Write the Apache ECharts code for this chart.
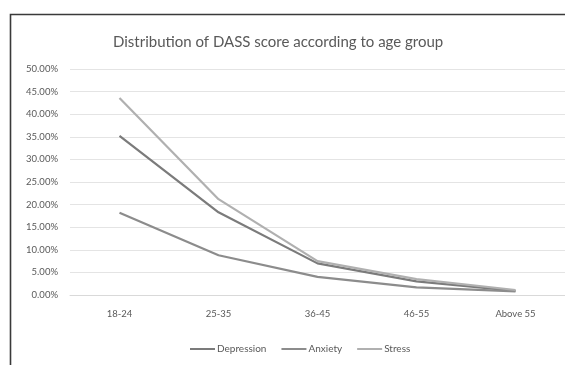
<!DOCTYPE html>
<html><head><meta charset="utf-8">
<script src="https://cdn.jsdelivr.net/npm/echarts@6/dist/echarts.min.js"></script>
<style>html,body{margin:0;padding:0;background:#fff}#c{width:565px;height:365px}</style>
</head><body><div id="c"></div>
<script>
const categories = ["18-24", "25-35", "36-45", "46-55", "Above 55"];
const depression = [35.2, 18.3, 7.0, 3.0, 0.9];
const anxiety = [18.2, 8.8, 4.0, 1.7, 0.8];
const stress = [43.6, 21.2, 7.5, 3.5, 1.1];
const yTicks = { min: 0, max: 50, interval: 5 };

const chart = echarts.init(document.getElementById('c'), null, { renderer: 'canvas' });
const font = 'Lato, "Open Sans", sans-serif';
const mk = (name, data, color) => ({
  name, type: 'line', data, symbol: 'none', smooth: false,
  lineStyle: { color, width: 2.2 }, itemStyle: { color }
});
chart.setOption({
  animation: false,
  backgroundColor: '#fff',
  graphic: [{
    type: 'rect', shape: { x: 10.5, y: 14.5, width: 600, height: 400 },
    style: { fill: 'none', stroke: '#3a3a3a', lineWidth: 1.6 }, silent: true, z: -1
  }],
  title: {
    text: 'Distribution of DASS score according to age group',
    left: 108, top: 30,
    textStyle: { fontFamily: font, fontSize: 15, fontWeight: 'normal', color: '#595959' }
  },
  legend: {
    bottom: 6, left: 185, itemWidth: 25, itemHeight: 2, itemGap: 15,
    icon: 'rect',
    textStyle: { fontFamily: font, fontSize: 10, color: '#595959', padding: [0, 0, 0, -3] },
    data: ['Depression', 'Anxiety', 'Stress']
  },
  grid: { left: 70, right: 0, top: 69, bottom: 70, containLabel: false },
  xAxis: {
    type: 'category', data: categories, boundaryGap: true,
    axisLine: { show: true, lineStyle: { color: '#d9d9d9' } },
    axisTick: { show: false },
    axisLabel: { fontFamily: font, fontSize: 9.5, color: '#595959', margin: 14 }
  },
  yAxis: {
    type: 'value', min: yTicks.min, max: yTicks.max, interval: yTicks.interval,
    axisLine: { show: false }, axisTick: { show: false },
    splitLine: { lineStyle: { color: '#e4e4e4' } },
    axisLabel: { fontFamily: font, fontSize: 9.5, color: '#595959', margin: 12,
      formatter: v => v.toFixed(2) + '%' }
  },
  series: [
    mk('Depression', depression, '#7b7b7b'),
    mk('Anxiety', anxiety, '#8c8c8c'),
    mk('Stress', stress, '#b0b0b0')
  ]
});
</script></body></html>
